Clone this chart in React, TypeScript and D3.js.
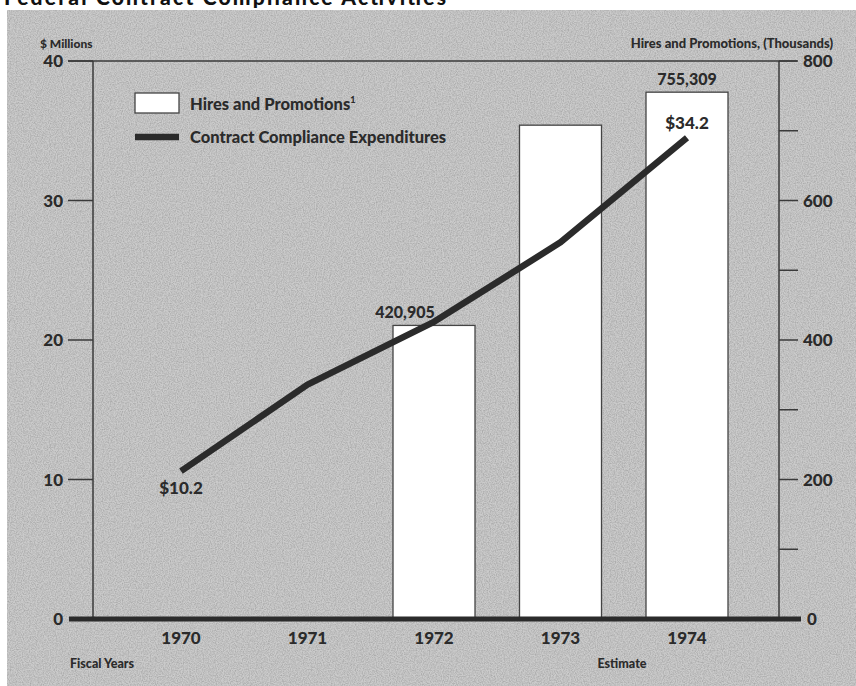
import React from "react";
import * as d3 from "d3";

const years = ["1970", "1971", "1972", "1973", "1974"];
const expenditures = [10.6, 16.8, 21.3, 27.0, 34.5]; // $ millions
const hiresYears = ["1972", "1973", "1974"];
const hires = [420.905, 708, 755.309]; // thousands
const hiresLabels = ["420,905", "", "755,309"];
const leftTicks = [0, 10, 20, 30, 40];
const rightTicks = [0, 100, 200, 300, 400, 500, 600, 700, 800];
const rightLabels = [0, 200, 400, 600, 800];
const expLabels = [
  { year: "1970", text: "$10.2", pos: "below" },
  { year: "1974", text: "$34.2", pos: "above" },
];

const W = 856;
const H = 686;
const FONT = "Lato, 'Open Sans', sans-serif";
const INK = "#2b2b2b";
const WEIGHT = 900;

export default function App() {
  const x = d3.scalePoint<string>().domain(years).range([181, 687]);
  const yL = d3.scaleLinear().domain([0, 40]).range([619, 61]);
  const yR = d3.scaleLinear().domain([0, 800]).range([619, 61]);
  const barW = 82;
  const axisL = 93;
  const axisR = 779;

  const line = d3
    .line<number>()
    .x((_, i) => x(years[i]) as number)
    .y((d) => yL(d));

  return (
    <div style={{ position: "fixed", left: 0, top: 0 }}>
      <svg width={W} height={H} style={{ display: "block" }}>
        <defs>
          <filter id="grain" x="0" y="0" width="100%" height="100%">
            <feTurbulence type="fractalNoise" baseFrequency="0.85" numOctaves="2" seed="3" />
            <feColorMatrix
              type="matrix"
              values="0 0 0 0 0  0 0 0 0 0  0 0 0 0 0  0.9 0 0 0 -0.3"
            />
          </filter>
        </defs>
        <rect x={0} y={0} width={W} height={H} fill="#ffffff" />
        <text
          x={4}
          y={5}
          fontFamily={FONT}
          fontWeight={900}
          fontSize={21}
          fill="#111"
          textLength={442}
          lengthAdjust="spacing"
        >
          Federal Contract Compliance Activities
        </text>
        <rect x={7} y={10} width={W - 7} height={H - 10} fill="#cbcbcb" />
        <rect x={7} y={10} width={W - 7} height={H - 10} filter="url(#grain)" opacity={0.35} />

        {/* Bars */}
        {hiresYears.map((yr, i) => (
          <g key={yr}>
            <rect
              x={(x(yr) as number) - barW / 2}
              y={yR(hires[i])}
              width={barW}
              height={yR(0) - yR(hires[i])}
              fill="#ffffff"
              stroke="#444"
              strokeWidth={1.3}
            />
            {hiresLabels[i] && (
              <text
                x={(x(yr) as number) + (i === 0 ? -29 : 0)}
                y={yR(hires[i]) - 7}
                textAnchor="middle"
                fontFamily={FONT}
                fontWeight={WEIGHT}
                fontSize={16}
                fill={INK}
              >
                {hiresLabels[i]}
              </text>
            )}
          </g>
        ))}

        {/* Frame */}
        <line x1={68} x2={797} y1={yL(40)} y2={yL(40)} stroke="#3a3a3a" strokeWidth={1.5} />
        <line x1={axisL} x2={axisL} y1={yL(40)} y2={yL(0)} stroke="#3a3a3a" strokeWidth={1.5} />
        <line x1={axisR} x2={axisR} y1={yL(40)} y2={yL(0)} stroke="#3a3a3a" strokeWidth={1.5} />

        {/* Left ticks */}
        {leftTicks.map((t) => (
          <g key={"l" + t}>
            {t > 0 && (
              <line x1={68} x2={axisL} y1={yL(t)} y2={yL(t)} stroke="#3a3a3a" strokeWidth={1.5} />
            )}
            <text
              x={63}
              y={yL(t)}
              dy="0.36em"
              textAnchor="end"
              fontFamily={FONT}
              fontWeight={WEIGHT}
              fontSize={17}
              fill={INK}
            >
              {t}
            </text>
          </g>
        ))}

        {/* Right ticks */}
        {rightTicks.map((t) => (
          <line key={"r" + t} x1={axisR} x2={798} y1={yR(t)} y2={yR(t)} stroke="#3a3a3a" strokeWidth={1.5} />
        ))}
        {rightLabels.map((t) => (
          <text
            key={"rl" + t}
            x={t === 0 ? 807 : 803}
            y={yR(t)}
            dy="0.36em"
            textAnchor="start"
            fontFamily={FONT}
            fontWeight={WEIGHT}
            fontSize={17}
            fill={INK}
          >
            {t}
          </text>
        ))}

        {/* Baseline */}
        <line x1={69} x2={801} y1={yL(0)} y2={yL(0)} stroke={INK} strokeWidth={5} />

        {/* Expenditure line */}
        <path d={line(expenditures) as string} fill="none" stroke={INK} strokeWidth={6.5} strokeLinejoin="round" />
        {expLabels.map((l) => {
          const i = years.indexOf(l.year);
          return (
            <text
              key={l.text}
              x={x(l.year) as number}
              y={l.pos === "below" ? yL(expenditures[i]) + 23 : yL(expenditures[i]) - 9}
              textAnchor="middle"
              fontFamily={FONT}
              fontWeight={WEIGHT}
              fontSize={17}
              fill={INK}
            >
              {l.text}
            </text>
          );
        })}

        {/* Axis titles */}
        <text x={40} y={48} fontFamily={FONT} fontWeight={WEIGHT} fontSize={12} fill={INK}>
          $ Millions
        </text>
        <text x={833} y={48} textAnchor="end" fontFamily={FONT} fontWeight={WEIGHT} fontSize={13} fill={INK}>
          Hires and Promotions, (Thousands)
        </text>

        {/* Year labels */}
        {years.map((yr) => (
          <text
            key={yr}
            x={x(yr) as number}
            y={644}
            textAnchor="middle"
            fontFamily={FONT}
            fontWeight={WEIGHT}
            fontSize={17}
            fill={INK}
          >
            {yr}
          </text>
        ))}
        <text x={70} y={668} fontFamily={FONT} fontWeight={WEIGHT} fontSize={12.5} fill={INK}>
          Fiscal Years
        </text>
        <text x={622} y={668} textAnchor="middle" fontFamily={FONT} fontWeight={WEIGHT} fontSize={12.5} fill={INK}>
          Estimate
        </text>

        {/* Legend */}
        <rect x={135} y={93} width={44} height={20} fill="#ffffff" stroke="#444" strokeWidth={1.3} />
        <text x={190} y={110} fontFamily={FONT} fontWeight={WEIGHT} fontSize={16.5} fill={INK}>
          Hires and Promotions
          <tspan fontSize={9} dy={-7}>
            1
          </tspan>
        </text>
        <line x1={135} x2={179} y1={137} y2={137} stroke={INK} strokeWidth={6.5} />
        <text x={190} y={143} fontFamily={FONT} fontWeight={WEIGHT} fontSize={16.5} fill={INK}>
          Contract Compliance Expenditures
        </text>
      </svg>
    </div>
  );
}
